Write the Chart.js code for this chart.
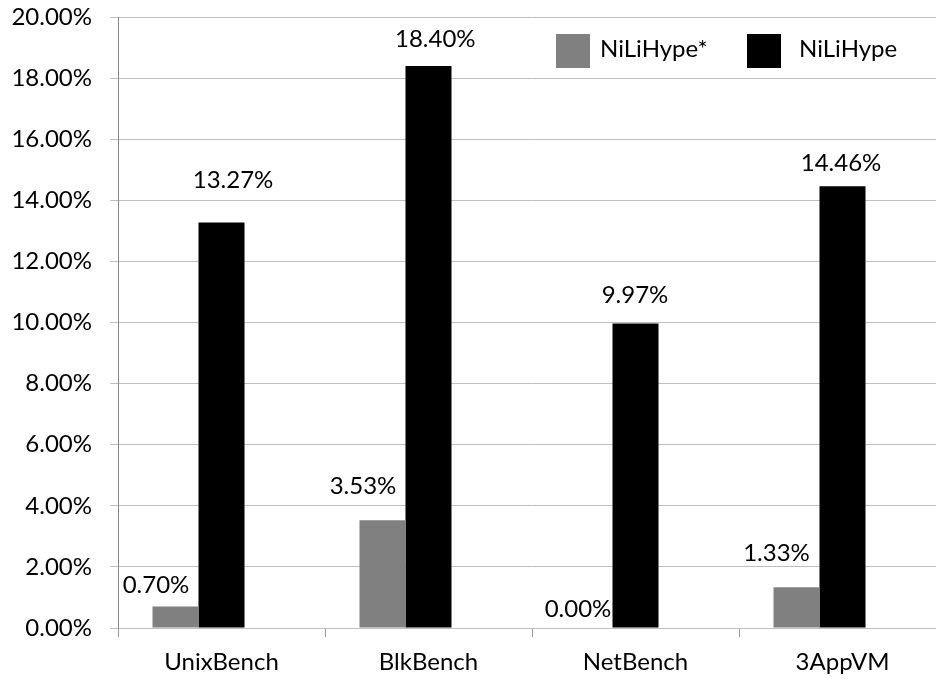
<!DOCTYPE html>
<html>
<head>
<meta charset="utf-8">
<script src="https://cdn.jsdelivr.net/npm/chart.js@4.4.1/dist/chart.umd.min.js"></script>
<style>
  html, body { margin: 0; padding: 0; background: #fff; overflow: hidden; }
  #wrap { width: 950px; height: 679px; }
</style>
</head>
<body>
<div id="wrap"><canvas id="c" width="950" height="679"></canvas></div>
<script>
// Overhead per benchmark, in percent
const categories = ['UnixBench', 'BlkBench', 'NetBench', '3AppVM'];
const seriesNames = ['NiLiHype*', 'NiLiHype'];
const nilihypeStar = [0.70, 3.53, 0.00, 1.33];
const nilihype = [13.27, 18.40, 9.97, 14.46];
const yTicks = [0, 2, 4, 6, 8, 10, 12, 14, 16, 18, 20];

// Hand-placed value labels: [dx, dy] from the bar's top centre to the label's baseline centre
const starLabelShift = [[-19.5, -13.6], [-19.5, -26], [-11.5, -11], [-20, -26]];
const plainLabelShift = [[11.5, -34.6], [6.8, -19], [-0.5, -20.4], [-1.5, -15.7]];

const FONT = 'Lato, "Open Sans", "DejaVu Sans", sans-serif';
const fmt = v => v.toFixed(2) + '%';

const valueLabels = {
  id: 'valueLabels',
  afterDatasetsDraw(chart) {
    const ctx = chart.ctx;
    const shifts = [starLabelShift, plainLabelShift];
    ctx.save();
    ctx.font = '24px ' + FONT;
    ctx.fillStyle = '#000';
    ctx.textAlign = 'center';
    ctx.textBaseline = 'alphabetic';
    [0, 1].forEach(di => {
      const meta = chart.getDatasetMeta(di);
      const data = chart.data.datasets[di].data;
      meta.data.forEach((bar, i) => {
        const [dx, dy] = shifts[di][i];
        ctx.fillText(fmt(data[i]), bar.x + dx, bar.y + dy);
      });
    });
    ctx.restore();
  }
};

// Legend drawn inside the plot, top right
const insideLegend = {
  id: 'insideLegend',
  afterDraw(chart) {
    const ctx = chart.ctx;
    const items = [
      { ds: 0, box: 556, text: 600 },
      { ds: 1, box: 747, text: 799 }
    ];
    ctx.save();
    ctx.font = '24px ' + FONT;
    ctx.textAlign = 'left';
    ctx.textBaseline = 'alphabetic';
    items.forEach(it => {
      const ds = chart.data.datasets[it.ds];
      ctx.fillStyle = ds.backgroundColor;
      ctx.fillRect(it.box, 34, 34, 34);
      ctx.fillStyle = '#000';
      ctx.fillText(ds.label, it.text, 57);
    });
    ctx.restore();
  }
};

new Chart(document.getElementById('c'), {
  type: 'bar',
  data: {
    labels: categories,
    datasets: [
      { label: seriesNames[0], data: nilihypeStar, backgroundColor: '#808080' },
      { label: seriesNames[1], data: nilihype, backgroundColor: '#000000' },
      // empty third series slot keeps the bar pair left of centre
      { label: '', data: [], backgroundColor: 'rgba(0,0,0,0)' }
    ]
  },
  options: {
    responsive: false,
    animation: false,
    layout: { padding: { top: 17, right: 4, left: 0, bottom: 0 } },
    datasets: { bar: { categoryPercentage: 0.6667, barPercentage: 1, borderWidth: 0 } },
    plugins: { legend: { display: false }, tooltip: { enabled: false } },
    scales: {
      x: {
        offset: true,
        grid: { offset: true, drawOnChartArea: false, color: '#9a9a9a', tickLength: 9 },
        border: { color: '#bfbfbf' },
        ticks: { font: { family: FONT, size: 24 }, color: '#000', padding: 11 },
        afterFit(scale) { scale.height = 51; }
      },
      y: {
        min: 0,
        max: 20,
        afterBuildTicks(scale) { scale.ticks = yTicks.map(v => ({ value: v })); },
        grid: { color: '#bfbfbf', tickLength: 8 },
        border: { color: '#888888' },
        ticks: { font: { family: FONT, size: 24 }, color: '#000', padding: 18, callback: v => fmt(v) },
        afterFit(scale) {
          scale.width = 118;
          scale.paddingTop = 0;
          scale.paddingBottom = 0;
        }
      }
    }
  },
  plugins: [valueLabels, insideLegend]
});
</script>
</body>
</html>
